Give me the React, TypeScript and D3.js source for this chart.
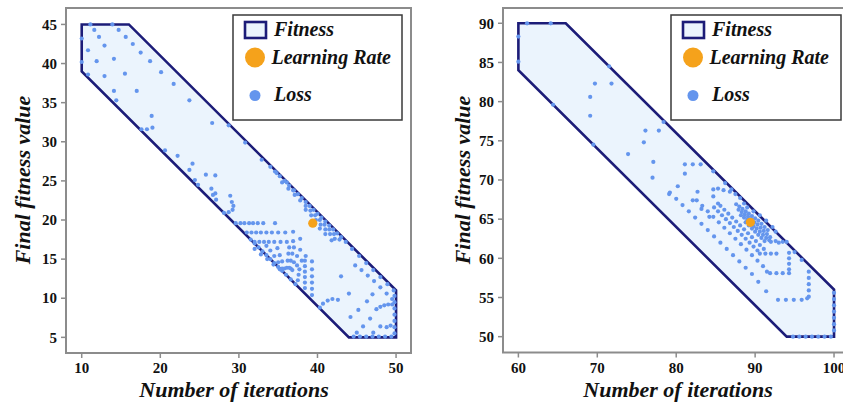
import React from "react";
import * as d3 from "d3";

// ---------- DATA ----------
const LEFT_X_TICKS = [10, 20, 30, 40, 50];
const LEFT_Y_TICKS = [5, 10, 15, 20, 25, 30, 35, 40, 45];
const RIGHT_X_TICKS = [60, 70, 80, 90, 100];
const RIGHT_Y_TICKS = [50, 55, 60, 65, 70, 75, 80, 85, 90];

const LEFT_FITNESS: [number, number][] = [
  [10, 45], [16, 45], [50, 11], [50, 5], [44, 5], [10, 39],
];
const RIGHT_FITNESS: [number, number][] = [
  [60, 90], [66, 90], [100, 56], [100, 50], [94, 50], [60, 84],
];

const LEFT_LR: [number, number][] = [[39.4, 19.6]];
const RIGHT_LR: [number, number][] = [[89.4, 64.6]];

const LEFT_LOSS: [number, number][] = [
  [11.1, 45.0], [13.9, 45.0], [11.6, 44.3], [14.7, 44.3], [12.2, 43.4], [15.6, 43.4], [10.0, 43.2],
  [12.9, 42.3], [16.5, 42.5], [10.8, 41.7], [17.5, 41.4], [11.9, 40.3], [14.1, 40.6], [10.0, 40.2],
  [18.7, 40.3], [10.8, 38.6], [12.9, 38.4], [15.5, 38.7], [20.1, 38.9], [14.1, 36.5], [17.0, 36.5],
  [21.7, 37.4], [14.4, 35.3], [23.7, 35.3], [18.9, 33.3], [17.6, 31.6], [18.3, 31.6], [19.0, 31.8],
  [26.6, 32.4], [28.7, 32.1], [30.8, 29.9], [20.6, 28.9], [22.2, 28.2], [24.1, 27.2], [23.7, 26.4],
  [24.4, 25.1], [25.8, 25.8], [24.8, 24.5], [26.5, 24.0], [26.7, 23.2], [28.9, 23.1], [32.9, 27.7],
  [34.8, 26.0], [36.1, 24.8], [36.9, 23.8], [27.0, 25.7], [27.0, 23.4], [27.1, 22.6],
  [29.1, 22.3], [29.3, 21.8], [29.2, 21.3], [28.7, 21.0], [28.1, 20.9],
  [29.6, 19.6], [30.2, 19.6], [30.7, 19.6], [31.3, 19.6], [31.8, 19.6], [32.4, 19.6], [33.1, 19.6], [34.6, 19.6],
  [31.0, 18.4], [31.6, 18.4], [32.2, 18.4], [32.8, 18.4], [33.5, 18.4], [34.2, 18.4], [35.0, 18.4], [35.9, 18.4], [36.9, 18.5],
  [32.0, 17.2], [32.6, 17.2], [33.2, 17.2], [33.8, 17.2], [34.5, 17.2], [35.3, 17.2], [36.1, 17.2], [36.9, 17.3], [37.8, 17.6],
  [31.5, 17.5], [32.0, 17.0], [32.5, 16.5], [33.0, 16.0], [33.5, 15.5], [34.0, 15.0], [34.5, 14.5],
  [35.0, 14.0], [35.5, 13.5], [36.0, 13.0], [36.6, 12.4], [37.2, 11.8],
  [35.2, 13.7], [34.4, 14.3], [33.6, 15.0], [32.8, 15.6], [32.0, 16.3],
  [35.5, 13.8], [35.0, 14.6], [34.5, 15.4], [34.0, 16.1], [33.5, 16.7],
  [35.8, 13.8], [35.5, 14.7], [35.2, 15.5], [34.9, 16.4],
  [36.1, 13.9], [36.2, 14.8], [36.3, 15.7], [36.4, 16.5],
  [36.4, 13.9], [36.6, 14.8], [36.8, 15.7], [37.0, 16.5],
  [36.6, 13.8], [37.0, 14.6], [37.4, 15.4], [37.8, 16.2],
  [36.8, 13.6], [37.4, 14.2], [38.0, 14.8], [38.5, 15.4],
  [37.5, 12.3], [37.6, 13.0], [37.7, 13.7],
  [38.4, 11.3], [38.4, 12.0], [38.4, 12.7], [38.4, 13.4], [38.4, 14.1], [38.4, 14.8],
  [39.3, 10.4], [39.3, 11.2], [39.3, 12.0], [39.3, 12.8], [39.3, 13.7], [39.3, 14.7],
  [34.0, 26.8], [34.6, 26.2], [35.2, 25.6], [35.8, 25.0], [36.4, 24.4], [37.0, 23.8], [37.5, 23.3],
  [38.0, 22.8], [38.5, 22.3], [39.0, 21.8], [39.5, 21.3], [40.0, 20.8], [40.5, 20.3], [41.0, 19.8],
  [41.5, 19.3], [42.0, 18.8], [42.5, 18.3], [43.0, 17.8], [43.6, 17.2],
  [35.5, 24.8], [36.3, 24.0], [37.1, 23.2], [37.8, 22.5], [38.5, 21.8], [39.1, 21.2], [39.7, 20.6],
  [40.3, 20.0], [40.9, 19.4], [41.5, 18.8], [42.1, 18.2], [42.8, 17.5],
  [38.5, 21.3], [39.2, 20.6], [39.8, 20.0], [40.4, 19.4], [41.0, 18.8], [41.6, 18.2], [42.2, 17.6],
  [39.6, 19.6], [40.3, 18.9], [41.0, 18.2], [41.8, 17.4],
  [44.4, 16.3], [45.3, 15.4], [46.2, 14.5], [47.1, 13.6], [48.0, 12.7], [48.9, 11.8], [49.7, 11.0],
  [44.8, 14.2], [45.6, 13.6], [46.4, 12.9], [47.2, 12.2], [48.0, 11.4], [48.8, 10.6], [49.5, 9.9],
  [44.0, 10.6], [46.3, 9.6], [45.2, 8.5], [44.2, 7.6], [46.7, 7.4], [45.8, 6.4], [48.0, 6.4],
  [45.0, 5.6], [47.1, 5.6], [47.0, 10.5], [43.0, 12.8],
  [40.3, 8.8], [40.7, 9.3], [41.3, 9.7], [41.9, 9.9], [42.6, 9.8],
  [47.5, 8.6], [48.0, 8.9], [48.5, 9.1], [49.0, 9.2], [49.5, 9.2], [48.8, 6.3], [49.3, 6.5],
  [49.8, 5.5], [49.8, 6.3], [49.8, 7.1], [49.8, 7.9], [49.8, 8.7], [49.8, 9.5], [49.8, 10.3],
  [44.6, 5.1], [45.4, 5.1], [46.2, 5.1], [47.0, 5.1], [47.8, 5.1], [48.6, 5.1], [49.4, 5.1],
];

const RIGHT_LOSS: [number, number][] = [
  [61.1, 90.0], [64.1, 90.0], [60.0, 88.3], [60.0, 85.1], [69.7, 82.3], [71.8, 82.3], [69.1, 80.6],
  [69.1, 78.2], [71.5, 84.5], [64.4, 79.6], [69.5, 74.5], [76.1, 76.3], [77.8, 76.3], [78.4, 77.4],
  [75.9, 74.8], [73.9, 73.3], [77.1, 72.3], [77.0, 70.3], [81.1, 72.0], [82.1, 72.0], [83.1, 72.0],
  [81.1, 70.8], [84.7, 71.1], [80.2, 69.2], [79.1, 68.2], [82.7, 68.5], [82.1, 67.4],
  [84.7, 68.8], [85.3, 68.9], [86.0, 68.7], [86.8, 68.5], [87.5, 68.2], [88.1, 67.7],
  [84.7, 67.9], [85.3, 67.0], [83.2, 66.3], [84.2, 65.3],
  [79.2, 68.4], [80.0, 67.6], [80.8, 66.8], [81.6, 66.0], [82.4, 65.2], [83.2, 64.4], [84.0, 63.6],
  [84.8, 62.8], [85.6, 62.0], [86.4, 61.2], [87.2, 60.4], [88.0, 59.6], [88.8, 58.8], [89.6, 58.0],
  [90.4, 57.0], [91.4, 55.8],
  [82.6, 67.4], [83.3, 66.7], [84.0, 66.0], [84.7, 65.3], [85.4, 64.6], [86.1, 63.9], [86.8, 63.2],
  [87.5, 62.5], [88.2, 61.8], [88.9, 61.1], [89.6, 60.4], [90.3, 59.7], [91.0, 59.0], [91.5, 58.3],
  [84.8, 66.5], [85.3, 66.0], [85.8, 65.5], [86.3, 65.0], [86.8, 64.5], [87.3, 64.0], [87.8, 63.5],
  [88.3, 63.0], [88.8, 62.5], [89.3, 62.0], [89.8, 61.5], [90.3, 61.0],
  [85.6, 66.7], [86.1, 66.2], [86.6, 65.7], [87.1, 65.2], [87.6, 64.7], [88.1, 64.2], [88.6, 63.7],
  [89.1, 63.2], [89.6, 62.7], [90.1, 62.2], [90.6, 61.7], [91.1, 61.2],
  [87.6, 66.9], [88.0, 66.6], [88.4, 66.3], [88.8, 66.0], [89.2, 65.7], [89.6, 65.4], [90.0, 65.1],
  [90.4, 64.8], [90.8, 64.4], [91.2, 64.0], [91.6, 63.6],
  [87.9, 66.2], [88.3, 65.9], [88.7, 65.6], [89.1, 65.3], [89.5, 65.0], [89.9, 64.6], [90.3, 64.3],
  [90.7, 63.9], [91.1, 63.5], [91.5, 63.1], [91.9, 62.7],
  [88.2, 65.5], [88.6, 65.2], [89.0, 64.9], [89.4, 64.5], [89.8, 64.1], [90.2, 63.8], [90.6, 63.4],
  [91.0, 63.0], [91.4, 62.6], [91.8, 62.3],
  [88.8, 64.6], [89.2, 64.2], [89.6, 63.8], [90.0, 63.4], [90.4, 63.0], [90.8, 62.6], [91.2, 62.2],
  [89.0, 66.5], [89.8, 66.0], [90.6, 65.5], [91.4, 64.8], [92.2, 64.0], [92.6, 63.4], [88.6, 67.0],
  [92.0, 62.1], [92.6, 62.2], [86.2, 69.6], [87.0, 68.8],
  [90.6, 60.6], [91.3, 60.6], [92.0, 60.6], [92.7, 60.6],
  [93.0, 62.0], [93.5, 62.1], [94.0, 62.1],
  [94.3, 60.7], [94.3, 60.0], [94.3, 59.3], [94.3, 58.6],
  [91.9, 58.1], [92.7, 58.1], [93.5, 58.1], [94.3, 58.1],
  [96.8, 58.3], [96.8, 57.5], [96.8, 56.7], [96.8, 55.9], [96.8, 55.1],
  [92.9, 54.7], [93.9, 54.7], [94.9, 54.7], [95.9, 54.7], [96.6, 54.9],
  [95.9, 59.8], [95.0, 60.8],
  [94.8, 50.0], [95.6, 50.0], [96.4, 50.0], [97.2, 50.0], [98.0, 50.0], [98.8, 50.0], [99.6, 50.0],
  [100, 50.8], [100, 51.6], [100, 52.4], [100, 53.2], [100, 54.0], [100, 54.8], [100, 55.6],
];

// ---------- STYLE ----------
const SERIF = '"Liberation Serif", "Times New Roman", Times, serif';
const LOSS_COLOR = "#6495ed";
const LR_COLOR = "#f5a21b";
const POLY_STROKE = "#1c1c78";
const POLY_FILL = "#ebf4fd";
const FRAME = "#8c8c8c";

type PanelProps = {
  x0: number; x1: number; y0: number; y1: number;
  xDomain: [number, number]; yDomain: [number, number];
  xTicks: number[]; yTicks: number[];
  fitness: [number, number][]; loss: [number, number][]; lr: [number, number][];
  legendX: number; legendW: number;
  xTitleX: number; yTitleX: number;
};

function Panel(p: PanelProps) {
  const x = d3.scaleLinear().domain(p.xDomain).range([p.x0, p.x1]);
  const y = d3.scaleLinear().domain(p.yDomain).range([p.y1, p.y0]);
  const line = d3.line<[number, number]>().x((d) => x(d[0])).y((d) => y(d[1]));
  const polyPath = line(p.fitness) + "Z";
  const lx = p.legendX;
  return (
    <g>
      <rect x={p.x0} y={p.y0} width={p.x1 - p.x0} height={p.y1 - p.y0} fill="white" stroke={FRAME} strokeWidth={2} />
      <path d={polyPath} fill={POLY_FILL} stroke={POLY_STROKE} strokeWidth={2.6} strokeLinejoin="miter" />
      {p.loss.map((d, i) => (
        <circle key={i} cx={x(d[0])} cy={y(d[1])} r={2.1} fill={LOSS_COLOR} />
      ))}
      {p.lr.map((d, i) => (
        <circle key={"lr" + i} cx={x(d[0])} cy={y(d[1])} r={4.6} fill={LR_COLOR} />
      ))}
      {p.xTicks.map((t) => (
        <g key={"xt" + t}>
          <line x1={x(t)} x2={x(t)} y1={p.y1} y2={p.y1 + 5} stroke={FRAME} strokeWidth={1.5} />
          <text x={x(t)} y={p.y1 + 20} textAnchor="middle" fontFamily={SERIF} fontWeight="bold" fontSize={15} fill="#111">{t}</text>
        </g>
      ))}
      {p.yTicks.map((t) => (
        <g key={"yt" + t}>
          <line x1={p.x0 - 5} x2={p.x0} y1={y(t)} y2={y(t)} stroke={FRAME} strokeWidth={1.5} />
          <text x={p.x0 - 9} y={y(t)} dy="0.35em" textAnchor="end" fontFamily={SERIF} fontWeight="bold" fontSize={15} fill="#111">{t}</text>
        </g>
      ))}
      <text x={p.xTitleX} y={397} textAnchor="middle" fontFamily={SERIF} fontWeight="bold" fontStyle="italic" fontSize={22} fill="#111">Number of iterations</text>
      <text transform={`translate(${p.yTitleX},180) rotate(-90)`} textAnchor="middle" fontFamily={SERIF} fontWeight="bold" fontStyle="italic" fontSize={22} fill="#111">Final fitness value</text>
      {/* legend */}
      <rect x={lx} y={15} width={p.legendW} height={105} fill="white" stroke="#3a3a3a" strokeWidth={1.5} />
      <rect x={lx + 12} y={22} width={21} height={16} fill={POLY_FILL} stroke={POLY_STROKE} strokeWidth={2.6} />
      <text x={lx + 41} y={36} fontFamily={SERIF} fontWeight="bold" fontStyle="italic" fontSize={20} fill="#111">Fitness</text>
      <circle cx={lx + 22} cy={57.5} r={10} fill={LR_COLOR} />
      <text x={lx + 38.5} y={63.5} fontFamily={SERIF} fontWeight="bold" fontStyle="italic" fontSize={20} fill="#111">Learning Rate</text>
      <circle cx={lx + 22} cy={95.5} r={5.5} fill={LOSS_COLOR} />
      <text x={lx + 41} y={101} fontFamily={SERIF} fontWeight="bold" fontStyle="italic" fontSize={20} fill="#111">Loss</text>
    </g>
  );
}

export default function App() {
  return (
    <svg width={843} height={403} style={{ position: "absolute", left: 0, top: 0, background: "white" }}>
      <rect x={0} y={0} width={843} height={403} fill="white" />
      <Panel
        x0={66} x1={411} y0={8} y1={353}
        xDomain={[8.0, 51.9]} yDomain={[3.0, 47.1]}
        xTicks={LEFT_X_TICKS} yTicks={LEFT_Y_TICKS}
        fitness={LEFT_FITNESS} loss={LEFT_LOSS} lr={LEFT_LR}
        legendX={233} legendW={169}
        xTitleX={234} yTitleX={30}
      />
      <Panel
        x0={503} x1={848} y0={8} y1={352.5}
        xDomain={[58.05, 101.77]} yDomain={[47.98, 91.95]}
        xTicks={RIGHT_X_TICKS} yTicks={RIGHT_Y_TICKS}
        fitness={RIGHT_FITNESS} loss={RIGHT_LOSS} lr={RIGHT_LR}
        legendX={671} legendW={170}
        xTitleX={678} yTitleX={470}
      />
    </svg>
  );
}
